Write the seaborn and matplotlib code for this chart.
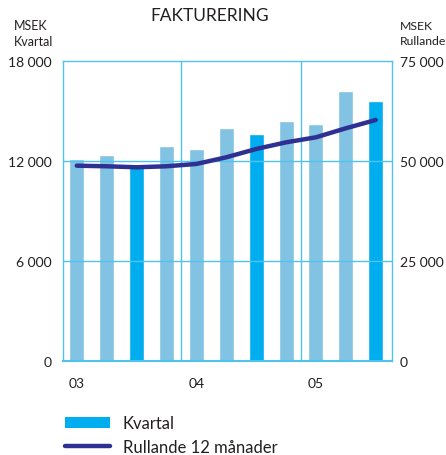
import numpy as np
import pandas as pd
import matplotlib.pyplot as plt
import seaborn as sns
from matplotlib.patches import Patch
from matplotlib.lines import Line2D

quarters = ['03Q1', '03Q2', '03Q3', '03Q4', '04Q1', '04Q2', '04Q3', '04Q4',
            '05Q1', '05Q2', '05Q3']
kvartal = [12130, 12370, 11620, 12910, 12730, 13990, 13630, 14410, 14230, 16210, 15610]
rullande = [48850, 48700, 48450, 48700, 49280, 50950, 53030, 54700, 55960, 58220, 60300]
year_labels = ['03', '04', '05']
year_pos = [0, 4, 8]

light = '#82C3E3'
bright = '#00AEEF'
grid_c = '#4FC3EE'
line_c = '#2E3192'
txt = '#231F20'

sns.set_theme(style='white')
plt.rcParams['font.family'] = ['Lato', 'DejaVu Sans']

df = pd.DataFrame({'q': quarters, 'v': kvartal})
colors = [bright if q.endswith('Q3') else light for q in quarters]

fig = plt.figure(figsize=(4.46, 4.56), dpi=100)
ax = fig.add_axes([0.1406, 0.2068, 0.7374, 0.6566])
sns.barplot(data=df, x='q', y='v', hue='q', palette=colors, width=0.5,
            legend=False, ax=ax, saturation=1, zorder=2)
ax.set_xlim(-0.47, 10.53)
ax.set_ylim(0, 18000)
ax.set_yticks([0, 6000, 12000, 18000])
ax.set_yticklabels(['0', '6 000', '12 000', '18 000'])
ax.set_xticks(year_pos)
ax.set_xticklabels(year_labels)
ax.set_xlabel('')
ax.set_ylabel('')
ax.tick_params(axis='y', length=0, pad=8, labelsize=10, colors=txt)
ax.tick_params(axis='x', length=0, pad=12, labelsize=10, colors=txt)
for y in [6000, 12000]:
    ax.axhline(y, color=grid_c, lw=1, zorder=4)
for x in [3.5, 7.5]:
    ax.axvline(x, color=grid_c, lw=1, zorder=4)
for s in ax.spines.values():
    s.set_color(grid_c)
    s.set_linewidth(1)
    s.set_zorder(4)
ax.spines['bottom'].set_linewidth(1.5)
ax.grid(False)

ax2 = ax.twinx()
sns.lineplot(x=np.arange(len(rullande)), y=rullande, ax=ax2, color=line_c,
             lw=3.2, solid_capstyle='round', zorder=5)
ax2.set_ylim(0, 75000)
ax2.set_yticks([0, 25000, 50000, 75000])
ax2.set_yticklabels(['0', '25 000', '50 000', '75 000'])
ax2.tick_params(axis='y', length=0, pad=6, labelsize=10, colors=txt)
ax2.set_xlim(-0.47, 10.53)
ax2.set_ylabel('')
for s in ax2.spines.values():
    s.set_visible(False)
ax2.grid(False)

fig.text(0.47, 0.965, 'FAKTURERING', ha='center', va='center', fontsize=12.5, color=txt)
fig.text(0.031, 0.925, 'MSEK\nKvartal', ha='left', va='center', fontsize=9,
         color=txt, linespacing=1.4)
fig.text(0.897, 0.925, 'MSEK\nRullande', ha='left', va='center', fontsize=8.8,
         color=txt, linespacing=1.4)

handles = [Patch(facecolor=bright, edgecolor='none'),
           Line2D([0], [0], color=line_c, lw=3.2, solid_capstyle='round')]
fig.legend(handles, ['Kvartal', 'Rullande 12 månader'], loc='upper left',
           bbox_to_anchor=(0.13, 0.102), frameon=False, fontsize=12,
           handlelength=2.7, handleheight=0.6, handletextpad=0.8,
           labelspacing=0.45, labelcolor=txt, borderaxespad=0)

fig.savefig('out.png', dpi=100)
